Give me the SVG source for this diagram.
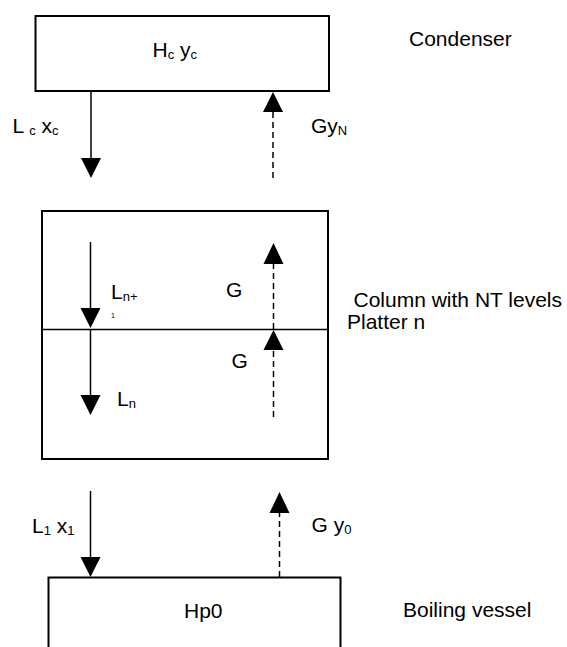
<svg xmlns="http://www.w3.org/2000/svg" width="567" height="647" viewBox="0 0 567 647">
<style>
text{font-family:"Liberation Sans",Arial,sans-serif;font-size:21px;fill:#000}
.s{font-size:13px}
.box{fill:#fff;stroke:#000;stroke-width:2}
.ln{stroke:#000;stroke-width:1.5;fill:none}
.dash{stroke:#000;stroke-width:1.5;fill:none;stroke-dasharray:6,4}
.head{fill:#000}
</style>
<rect width="567" height="647" fill="#fff"/>
<g id="condenser">
<rect class="box" x="35.5" y="16" width="293.5" height="75"/>
<text x="152.5" y="57">H<tspan class="s" dy="2">c</tspan><tspan dy="-2"> y</tspan><tspan class="s" dy="2">c</tspan></text>
<text x="409" y="46">Condenser</text>
</g>
<g id="column">
<rect class="box" x="42" y="211" width="286" height="248"/>
<line class="ln" x1="42" y1="329.5" x2="328" y2="329.5" stroke-width="1.3"/>
<text x="353.5" y="307">Column with NT levels</text>
<text x="347" y="329">Platter n</text>
</g>
<g id="boiler">
<rect class="box" x="48.5" y="577.5" width="292" height="80"/>
<text x="184" y="618">Hp0</text>
<text x="403" y="617">Boiling vessel</text>
</g>
<g id="connectors">
<line class="ln" x1="91" y1="91" x2="91" y2="160"/>
<polygon class="head" points="81,158 101,158 91,178"/>
<text x="12.5" y="133">L <tspan class="s" dy="2">c</tspan><tspan dy="-2"> x</tspan><tspan class="s" dy="2">c</tspan></text>
<line class="dash" x1="273" y1="178" x2="273" y2="110"/>
<polygon class="head" points="263,112 283,112 273,92"/>
<text x="311" y="133">Gy<tspan class="s" dy="2">N</tspan></text>

<line class="ln" x1="90.5" y1="242" x2="90.5" y2="310"/>
<polygon class="head" points="80.5,308 100.5,308 90.5,328"/>
<line class="ln" x1="90.5" y1="329" x2="90.5" y2="397"/>
<polygon class="head" points="80.5,395 100.5,395 90.5,415"/>
<text x="111" y="299">L<tspan class="s" dy="2">n+</tspan></text>
<text x="111" y="318" style="font-size:7px">1</text>
<text x="117" y="406">L<tspan class="s" dy="2">n</tspan></text>

<line class="dash" x1="273.5" y1="329" x2="273.5" y2="262"/>
<polygon class="head" points="263.5,264 283.5,264 273.5,243"/>
<text x="226" y="297">G</text>
<line class="dash" x1="273.5" y1="417" x2="273.5" y2="348"/>
<polygon class="head" points="263.5,350 283.5,350 273.5,330"/>
<text x="231.5" y="368">G</text>

<line class="ln" x1="90.5" y1="491" x2="90.5" y2="560"/>
<polygon class="head" points="80.5,557 100.5,557 90.5,577"/>
<text x="32" y="533">L<tspan class="s" dy="2">1</tspan><tspan dy="-2"> x</tspan><tspan class="s" dy="2">1</tspan></text>
<line class="dash" x1="279.5" y1="577" x2="279.5" y2="511"/>
<polygon class="head" points="269.5,513 289.5,513 279.5,492"/>
<text x="311.5" y="532">G y<tspan class="s" dy="2">0</tspan></text>
</g>
</svg>
